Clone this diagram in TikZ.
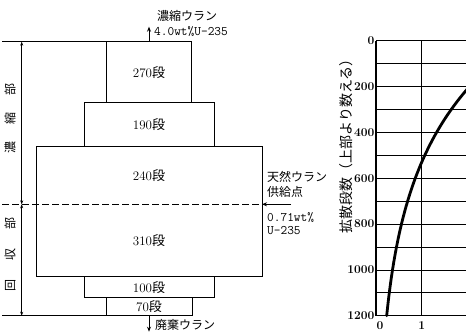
\documentclass[tikz,border=0pt]{standalone}
\usepackage{fontspec}
\usepackage{tikz}
\usetikzlibrary{arrows.meta, positioning}
\newfontfamily\jp{Noto Sans CJK JP}
\newcommand{\dan}{{\jp 段}}
\tikzstyle{stage} = [rectangle, draw, line width=1pt, inner sep=0pt, outer sep=0pt, font=\fontsize{13}{15}\selectfont]
\tikzstyle{bare} = [rectangle, inner sep=0pt, outer sep=0pt, font=\fontsize{13}{15}\selectfont]
\tikzstyle{note} = [inner sep=0pt, anchor=west, align=left, font=\jp\fontsize{12}{15}\selectfont]
\tikzstyle{ttnote} = [inner sep=0pt, anchor=west, align=left, font=\ttfamily\fontsize{13}{13.5}\selectfont]
\tikzstyle{side} = [inner sep=0pt, rotate=90, font=\jp\fontsize{12}{14}\selectfont]
\tikzstyle{tick} = [inner sep=0pt, font=\bfseries\fontsize{12}{14}\selectfont]
\tikzstyle{arrow} = [line width=0.8pt, -{Stealth[length=5pt,width=4pt]}]
\tikzstyle{dim} = [line width=0.6pt, {Stealth[length=4pt,width=3pt]}-{Stealth[length=4pt,width=3pt]}]
\tikzstyle{gridline} = [line width=0.7pt]

\begin{document}
\begin{tikzpicture}[x=1pt, y=-1pt, node distance=0pt]
    \useasboundingbox (0,0) rectangle (466,332);

    % cascade
    \node (s270) [stage, minimum width=84.6pt, minimum height=61pt] at (149,72.2) {270\dan};
    \node (s190) [stage, minimum width=130pt, minimum height=44pt, below=of s270] {190\dan};
    \node (s240) [bare, minimum width=226pt, minimum height=57.6pt, below=of s190] {240\dan};
    \node (s310) [bare, minimum width=226pt, minimum height=72.4pt, below=of s240] {310\dan};
    \node (s100) [stage, minimum width=130pt, minimum height=21pt, below=of s310] {100\dan};
    \node (s70) [stage, minimum width=86pt, minimum height=18pt, below=of s100] {70\dan};
    \draw [line width=1pt] (s240.north west) rectangle (s310.south east);

    \coordinate (topL) at (s270.north -| 2,0);
    \coordinate (midL) at (s240.south -| 2,0);
    \coordinate (botL) at (s70.south -| 2,0);
    \draw [line width=0.7pt] (topL) -- (s270.north west);
    \draw [line width=0.7pt] (botL) -- (s70.south west);
    \draw [line width=0.7pt, dash pattern=on 7pt off 3pt] (midL) -- (s240.south east);

    \coordinate (dimT) at (s270.north -| 21.7,0);
    \coordinate (dimM) at (s240.south -| 21.7,0);
    \coordinate (dimB) at (s70.south -| 21.7,0);
    \draw [dim] (dimM) -- (dimT);
    \draw [dim] (dimM) -- (dimB);
    \node (enrich) [side] at (10,118) {濃\hspace{17pt}縮\hspace{17pt}部};
    \node (strip) [side] at (10,254) {回\hspace{19pt}収\hspace{19pt}部};

    % product, tails, feed
    \coordinate (prod) at ([yshift=15pt]s270.north);
    \draw [arrow] (s270.north) -- (prod);
    \node (prodA) [note] at (157,16) {濃縮ウラン};
    \node (prodB) [ttnote] at (154,32) {4.0wt\%U-235};

    \coordinate (tail) at ([yshift=-16pt]s70.south);
    \draw [arrow] (s70.south) -- (tail);
    \node (tailA) [note] at (155,325) {廃棄ウラン};

    \coordinate (feed) at ([xshift=29pt]s240.south east);
    \draw [arrow] (feed) -- (s240.south east);
    \node (feedA) [note] at (267,184) {天然ウラン\\供給点};
    \node (feedB) [ttnote] at (267,223.4) {0.71wt\%\\U-235};

    % profile
    \begin{scope}
        \clip (300,0) rectangle (466,332);
        \foreach \i in {0,...,12}
            \draw [gridline] (376,{40.7+22.917*\i}) -- (470,{40.7+22.917*\i});
        \foreach \j in {1,...,4}
            \draw [gridline] ({376+45.33*\j},40.7) -- ({376+45.33*\j},315.7);
        \draw [line width=1.4pt] (376,40.7) -- (376,315.7);
        \draw [line width=1.2pt] (376,40.7) -- (470,40.7);
        \draw [line width=1.2pt] (376,315.7) -- (470,315.7);
        \draw [line width=2.8pt, line cap=round] plot [domain=120:1200, samples=60]
            ({376+45.33*3.18*exp(-0.002163*\x)}, {40.7+0.22917*\x});
    \end{scope}
    \foreach \d [count=\k] in {0,200,...,1200}
        \node (yt\k) [tick, anchor=east] at (374.5,{40.7+0.22917*\d}) {\d};
    \node (xt0) [tick] at (380,325.5) {0};
    \node (xt1) [tick] at (421.7,325.5) {1};
    \node (yaxis) [side, font=\jp\fontsize{14}{16}\selectfont] at (346,143) {拡散段数（上部より数える）};
\end{tikzpicture}
\end{document}
